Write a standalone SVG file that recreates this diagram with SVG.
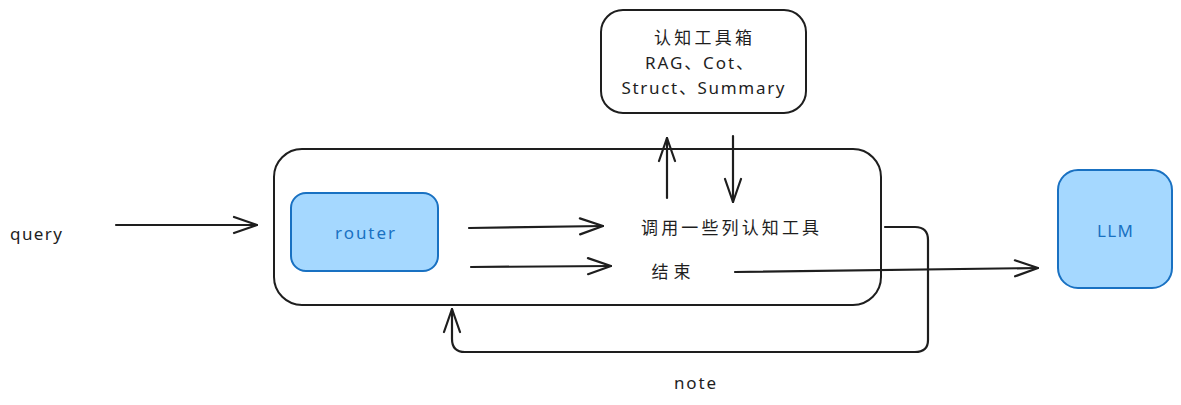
<svg xmlns="http://www.w3.org/2000/svg" width="1181" height="405" viewBox="0 0 1181 405">
<defs>
<marker id="ah" viewBox="0 0 26 20" refX="25" refY="10" markerWidth="26" markerHeight="20" markerUnits="userSpaceOnUse" orient="auto">
<path d="M2,2 L25,10 L2,18" fill="none" stroke="#1e1e1e" stroke-width="2.2" stroke-linecap="round" stroke-linejoin="round"/>
</marker>
<style>
.box{fill:#ffffff;stroke:#1e1e1e;stroke-width:2}
.blue{fill:#a5d8ff;stroke:#1971c2;stroke-width:2}
.t{font-family:"Noto Sans","Noto Sans CJK SC",sans-serif;font-size:17px;fill:#1e1e1e;text-anchor:middle;dominant-baseline:central}
.tb{fill:#1971c2}
.c{fill:none;stroke:#1e1e1e;stroke-width:2.2;stroke-linecap:round;stroke-linejoin:round;marker-end:url(#ah)}
</style>
</defs>
<rect width="1181" height="405" fill="#ffffff"/>
<g id="container"><rect class="box" x="274" y="149" width="607" height="156" rx="28"/></g>
<g id="toolbox">
<rect class="box" x="601" y="10" width="205" height="103" rx="22"/>
<text class="t" x="703" y="37" textLength="98" lengthAdjust="spacing">认知工具箱</text>
<text class="t" x="699" y="62" textLength="108" lengthAdjust="spacing">RAG、Cot、</text>
<text class="t" x="703" y="87" textLength="163" lengthAdjust="spacing">Struct、Summary</text>
</g>
<g id="router"><rect class="blue" x="291" y="193" width="147" height="78" rx="15"/><text class="t tb" x="365" y="232" textLength="60" lengthAdjust="spacing">router</text></g>
<g id="llm"><rect class="blue" x="1058" y="170" width="114" height="118" rx="20"/><text class="t tb" x="1115" y="230" textLength="36" lengthAdjust="spacing">LLM</text></g>
<g id="query"><text class="t" x="36" y="233" textLength="52" lengthAdjust="spacing">query</text></g>
<g id="call"><text class="t" x="730" y="227" textLength="178" lengthAdjust="spacing">调用一些列认知工具</text></g>
<g id="end"><text class="t" x="671" y="271" textLength="39" lengthAdjust="spacing">结束</text></g>
<g id="note"><text class="t" x="695" y="382" textLength="42" lengthAdjust="spacing">note</text></g>
<g id="connectors">
<path class="c" d="M116,225 L257,225"/>
<path class="c" d="M469,228 L603,226"/>
<path class="c" d="M471,267 L611,266"/>
<path class="c" d="M667,198 L667,138"/>
<path class="c" d="M733,136 L733,202"/>
<path class="c" d="M735,272 L1038,268"/>
<path class="c" d="M885,227 L915,227 Q928,227 928,240 L928,340 Q928,352 915,352 L465,352 Q452,352 452,339 L452,309"/>
</g>
</svg>
